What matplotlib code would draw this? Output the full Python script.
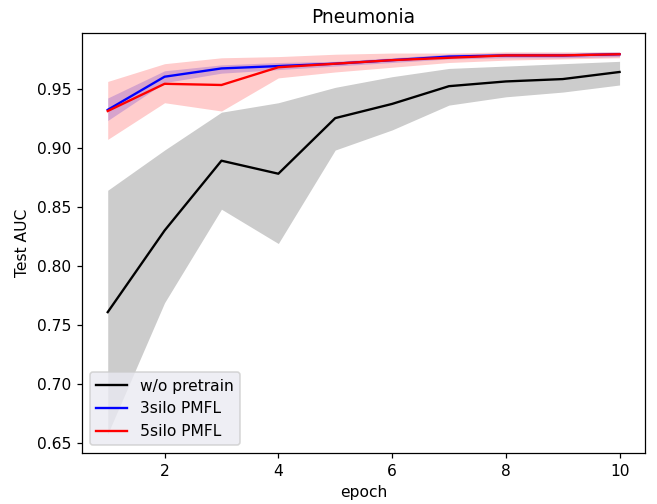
import numpy as np
import matplotlib.pyplot as plt

epochs = np.arange(1, 11)

# w/o pretrain
base_mean = [0.761, 0.830, 0.889, 0.878, 0.925, 0.937, 0.952, 0.956, 0.958, 0.964]
base_low = [0.658, 0.769, 0.848, 0.819, 0.898, 0.915, 0.936, 0.943, 0.947, 0.953]
base_high = [0.864, 0.898, 0.930, 0.938, 0.951, 0.960, 0.967, 0.969, 0.971, 0.973]

# 3silo PMFL
s3_mean = [0.932, 0.960, 0.967, 0.969, 0.971, 0.974, 0.977, 0.978, 0.978, 0.979]
s3_low = [0.923, 0.955, 0.963, 0.966, 0.969, 0.972, 0.975, 0.976, 0.976, 0.977]
s3_high = [0.942, 0.965, 0.970, 0.972, 0.973, 0.976, 0.979, 0.980, 0.980, 0.981]

# 5silo PMFL
s5_mean = [0.931, 0.954, 0.953, 0.968, 0.971, 0.974, 0.976, 0.978, 0.978, 0.979]
s5_low = [0.907, 0.938, 0.931, 0.959, 0.964, 0.968, 0.972, 0.974, 0.975, 0.976]
s5_high = [0.956, 0.971, 0.976, 0.977, 0.979, 0.980, 0.980, 0.981, 0.981, 0.981]

# plik wyglada na renderowany przy ~112 dpi
fig, ax = plt.subplots(figsize=(657 / 112, 504 / 112), dpi=112)
fig.subplots_adjust(left=0.125, right=0.982, top=0.935, bottom=0.101)

ax.plot(epochs, base_mean, color='black', label='w/o pretrain')
ax.fill_between(epochs, base_low, base_high, color='gray', alpha=0.4, linewidth=0)
ax.plot(epochs, s3_mean, color='blue', label='3silo PMFL')
ax.fill_between(epochs, s3_low, s3_high, color='blue', alpha=0.2, linewidth=0)
ax.plot(epochs, s5_mean, color='red', label='5silo PMFL')
ax.fill_between(epochs, s5_low, s5_high, color='red', alpha=0.2, linewidth=0)

ax.set_title('Pneumonia')
ax.set_xlabel('epoch')
ax.set_ylabel('Test AUC')
ax.legend(loc='lower left', facecolor='#EAEAF2')

fig.savefig('out.png')
